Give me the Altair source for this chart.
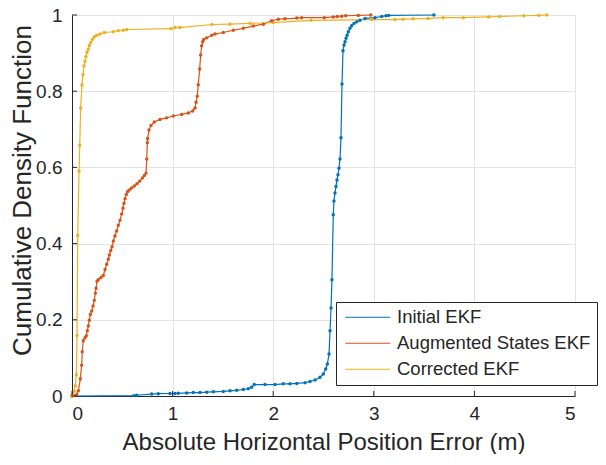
import altair as alt
import pandas as pd

series_names = ["Initial EKF", "Augmented States EKF", "Corrected EKF"]
series_colors = ["#0072BD", "#D95319", "#EDB120"]

blue_x = [0, 0.616, 0.643, 0.792, 0.858, 0.974, 1.024, 1.057, 1.14, 1.206, 1.272, 1.339, 1.405,
          1.504, 1.571, 1.637, 1.703, 1.752, 1.786, 1.812, 1.918, 2.018, 2.1, 2.167, 2.234, 2.316,
          2.366, 2.416, 2.465, 2.498, 2.522, 2.538, 2.555, 2.565, 2.575, 2.584, 2.597, 2.604, 2.614,
          2.624, 2.634, 2.644, 2.654, 2.664, 2.674, 2.684, 2.694, 2.704, 2.714, 2.724, 2.734, 2.747,
          2.763, 2.780, 2.803, 2.830, 2.863, 2.913, 3.012, 3.079, 3.121, 3.148, 3.598]
blue_y = [0, 0.001, 0.002, 0.005, 0.006, 0.0065, 0.0065, 0.007, 0.008, 0.009, 0.009, 0.010, 0.011,
          0.012, 0.0135, 0.015, 0.017, 0.019, 0.023, 0.030, 0.030, 0.030, 0.032, 0.032, 0.033, 0.035,
          0.038, 0.042, 0.049, 0.058, 0.071, 0.084, 0.110, 0.171, 0.231, 0.305, 0.476, 0.512, 0.533,
          0.550, 0.567, 0.581, 0.598, 0.622, 0.678, 0.819, 0.906, 0.921, 0.930, 0.939, 0.947, 0.956,
          0.965, 0.972, 0.978, 0.982, 0.986, 0.991, 0.993, 0.996, 0.998, 0.999, 1.0]

orange_x = [0, 0.023, 0.047, 0.063, 0.083, 0.096, 0.102, 0.112, 0.129, 0.142, 0.152, 0.162, 0.172,
            0.182, 0.196, 0.209, 0.222, 0.232, 0.239, 0.249, 0.261, 0.288, 0.311, 0.328, 0.345,
            0.361, 0.371, 0.385, 0.398, 0.411, 0.427, 0.444, 0.460, 0.477, 0.494, 0.507, 0.517,
            0.527, 0.540, 0.554, 0.570, 0.593, 0.619, 0.646, 0.673, 0.699, 0.719, 0.736, 0.743,
            0.749, 0.752, 0.765, 0.785, 0.818, 0.875, 0.941, 1.007, 1.090, 1.156, 1.2, 1.223, 1.233,
            1.245, 1.255, 1.269, 1.279, 1.289, 1.299, 1.309, 1.339, 1.389, 1.421, 1.504, 1.603,
            1.703, 1.802, 1.902, 1.985, 2.051, 2.117, 2.234, 2.283, 2.508, 2.597, 2.637, 2.681,
            2.721, 2.846, 2.97]
orange_y = [0, 0.001, 0.004, 0.014, 0.045, 0.081, 0.116, 0.145, 0.153, 0.158, 0.171, 0.184, 0.199,
            0.214, 0.223, 0.236, 0.251, 0.270, 0.283, 0.301, 0.305, 0.311, 0.316, 0.332, 0.346,
            0.359, 0.370, 0.382, 0.392, 0.407, 0.420, 0.433, 0.448, 0.461, 0.478, 0.493, 0.506,
            0.518, 0.529, 0.537, 0.541, 0.546, 0.551, 0.557, 0.564, 0.572, 0.579, 0.585, 0.622,
            0.665, 0.676, 0.698, 0.710, 0.719, 0.726, 0.730, 0.735, 0.739, 0.743, 0.748, 0.756, 0.771,
            0.787, 0.817, 0.858, 0.895, 0.919, 0.930, 0.936, 0.940, 0.947, 0.950, 0.954, 0.960,
            0.965, 0.971, 0.976, 0.985, 0.989, 0.990, 0.992, 0.993, 0.993, 0.995, 0.996, 0.997,
            0.998, 0.999, 1.0]

yellow_x = [0, 0.003, 0.023, 0.033, 0.043, 0.05, 0.057, 0.07, 0.077, 0.086, 0.099, 0.109, 0.119,
            0.129, 0.139, 0.149, 0.162, 0.172, 0.186, 0.202, 0.222, 0.246, 0.278, 0.321, 0.41, 0.46,
            0.51, 0.544, 0.984, 1.024, 1.07, 1.39, 1.57, 1.77, 2.0, 2.376, 2.98, 3.21, 3.29, 3.39,
            3.54, 3.69, 3.89, 4.14, 4.25, 4.49, 4.64, 4.72]
yellow_y = [0, 0.001, 0.0125, 0.027, 0.056, 0.159, 0.421, 0.59, 0.658, 0.756, 0.816, 0.843, 0.867,
            0.878, 0.891, 0.902, 0.910, 0.920, 0.928, 0.936, 0.943, 0.947, 0.950, 0.954, 0.956, 0.959,
            0.960, 0.962, 0.964, 0.967, 0.967, 0.975, 0.976, 0.978, 0.980, 0.986, 0.988, 0.988, 0.989,
            0.990, 0.991, 0.993, 0.993, 0.995, 0.996, 0.998, 0.999, 1.0]

x_ticks = [0, 1, 2, 3, 4, 5]
y_ticks = [0, 0.2, 0.4, 0.6, 0.8, 1]

rows = []
for name, xs, ys in zip(series_names, [blue_x, orange_x, yellow_x], [blue_y, orange_y, yellow_y]):
    for i, (xv, yv) in enumerate(zip(xs, ys)):
        rows.append({"series": name, "x": xv, "y": yv, "i": i})
df = pd.DataFrame(rows)

FONT = "Liberation Sans"
TXT = "#262626"
W, H = 503, 381

xscale = alt.Scale(domain=[0, 5], nice=False, zero=False)
yscale = alt.Scale(domain=[0, 1], nice=False, zero=False)

x_axis = alt.Axis(values=x_ticks, tickSize=0, labelPadding=8, labelFontSize=19, labelFont=FONT,
                  labelColor=TXT, grid=True, gridColor="#e3e3e3", gridWidth=1,
                  domainColor=TXT, domainWidth=1, title="Absolute Horizontal Position Error (m)",
                  titleFont=FONT, titleFontSize=24, titleFontWeight="normal", titleColor=TXT,
                  titlePadding=7, format="d")
y_axis = alt.Axis(values=y_ticks, tickSize=0, labelPadding=10, labelFontSize=19, labelFont=FONT,
                  labelColor=TXT, grid=True, gridColor="#e3e3e3", gridWidth=1,
                  domainColor=TXT, domainWidth=1, title="Cumulative Density Function",
                  titleFont=FONT, titleFontSize=26, titleFontWeight="normal", titleColor=TXT,
                  titleX=-50, titleY=175, titleBaseline="middle", titleAlign="center",
                  labelExpr="datum.value == 0 ? '0' : datum.value == 1 ? '1' : format(datum.value, '.1f')")

color = alt.Color("series:N", scale=alt.Scale(domain=series_names, range=series_colors),
                  legend=alt.Legend(orient="none", legendX=264, legendY=287, title=None,
                                    strokeColor=TXT, fillColor="white", padding=6,
                                    labelFont=FONT, labelFontSize=18.5, labelColor=TXT, labelLimit=0,
                                    symbolType="M-4.5,0H4.5", symbolSize=100, symbolStrokeWidth=1.2,
                                    symbolOffset=16.5, rowPadding=7, labelOffset=20, cornerRadius=0))

lines = alt.Chart(df).mark_line(strokeWidth=1.2, point=alt.OverlayMarkDef(filled=True, size=12)).encode(
    x=alt.X("x:Q", scale=xscale, axis=x_axis),
    y=alt.Y("y:Q", scale=yscale, axis=y_axis),
    color=color,
    order="i:Q",
)

xt = pd.DataFrame({"x": x_ticks})
yt = pd.DataFrame({"y": y_ticks})
xtick_marks = alt.Chart(xt).mark_rule(color=TXT, strokeWidth=1).encode(
    x=alt.X("x:Q", scale=xscale, axis=x_axis), y=alt.value(H), y2=alt.value(H - 5))
ytick_marks = alt.Chart(yt).mark_rule(color=TXT, strokeWidth=1).encode(
    y=alt.Y("y:Q", scale=yscale, axis=y_axis), x=alt.value(0), x2=alt.value(5))

chart = alt.layer(lines, xtick_marks, ytick_marks).properties(
    width=W, height=H,
    autosize=alt.AutoSizeParams(type="none"),
    padding={"left": 64, "top": 7, "right": 23, "bottom": 58},
).configure_view(stroke=None).configure(background="white")

chart.save("out.html", embed_options={"renderer": "svg", "actions": False})
